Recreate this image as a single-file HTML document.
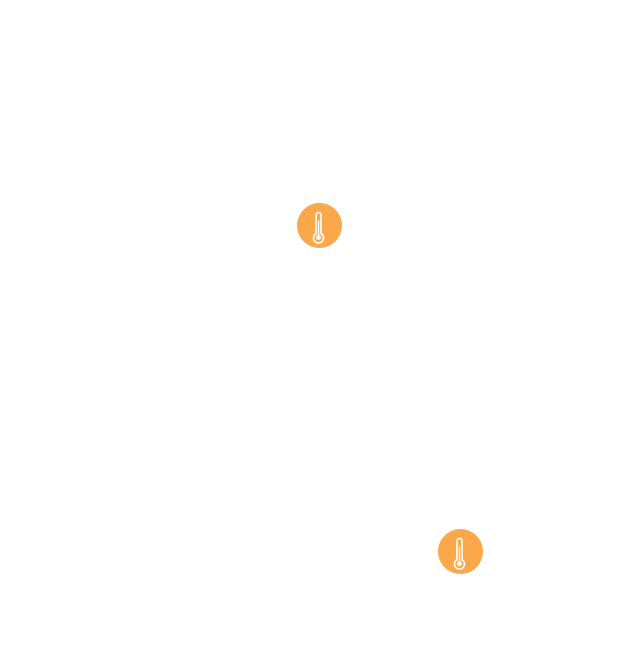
<!DOCTYPE html>
<html><head><meta charset="utf-8"><style>
html,body{margin:0;padding:0;background:#fff;width:617px;height:668px;overflow:hidden}
svg{display:block}
</style></head><body>
<svg width="617" height="668" viewBox="0 0 617 668" xmlns="http://www.w3.org/2000/svg">
<defs>
<g id="t">
<circle cx="0" cy="0" r="22.5" fill="#FBA84A"/>
<path d="M-3.5,8.2 V-10.5 A2.5,2.5 0 0 1 1.5,-10.5 V8.2 A5,5 0 1 1 -3.5,8.2 Z" fill="none" stroke="#fff" stroke-width="1.6" stroke-linejoin="round"/>
<line x1="-1" y1="-5" x2="-1" y2="10" stroke="#fff" stroke-width="1.4"/>
<circle cx="-1" cy="12" r="2.4" fill="#fff"/>
</g>
</defs>
<use href="#t" x="319.5" y="225.5"/>
<use href="#t" x="460.5" y="551.5"/>
</svg>
</body></html>
